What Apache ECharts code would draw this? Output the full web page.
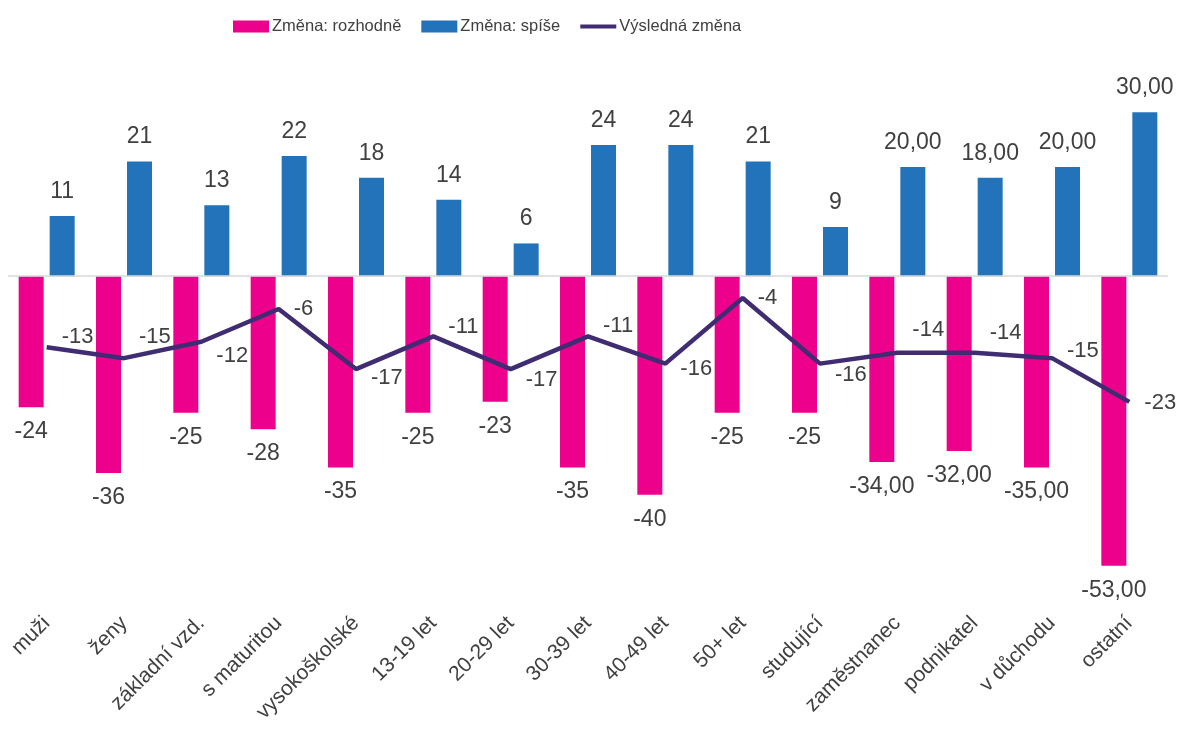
<!DOCTYPE html>
<html>
<head>
<meta charset="utf-8">
<script src="https://cdn.jsdelivr.net/npm/echarts@6/dist/echarts.min.js"></script>
<style>
html,body{margin:0;padding:0;background:#fff;}
#chart{width:1180px;height:733px;}
</style>
</head>
<body>
<div id="chart"></div>
<script>
const categories = ['muži','ženy','základní vzd.','s maturitou','vysokoškolské','13-19 let','20-29 let','30-39 let','40-49 let','50+ let','studující','zaměstnanec','podnikatel','v důchodu','ostatní'];
const rozhodne = [-24,-36,-25,-28,-35,-25,-23,-35,-40,-25,-25,-34,-32,-35,-53];
const spise = [11,21,13,22,18,14,6,24,24,21,9,20,18,20,30];
const vysledna = [-13,-15,-12,-6,-17,-11,-17,-11,-16,-4,-16,-14,-14,-15,-23];
const labelDecimals = [0,0,0,0,0,0,0,0,0,0,0,2,2,2,2];
// label vertical nudges for the line labels (layout only)
const lineLabelDy = [-10,-21,14,0,9,-9,11,-10,5,0,11,-23,-20,-7,1];

const FONT = "'Liberation Sans', Arial, sans-serif";
const TXT = '#404040';

function fmt(v, i) {
  const d = labelDecimals[i];
  return d ? v.toFixed(d).replace('.', ',') : String(v);
}

const chart = echarts.init(document.getElementById('chart'));
chart.setOption({
  animation: false,
  textStyle: { fontFamily: FONT },
  legend: {
    left: 228, top: 13,
    itemWidth: 36, itemHeight: 12, itemGap: 20,
    symbolKeepAspect: true,
    textStyle: { fontSize: 16.5, color: TXT, fontFamily: FONT, padding: [0,0,0,-2] },
    data: [
      { name: 'Změna: rozhodně', icon: 'rect' },
      { name: 'Změna: spíše', icon: 'rect' },
      { name: 'Výsledná změna', icon: 'path://M0,0h36v4h-36z' }
    ]
  },
  grid: { left: 8, right: 12, top: 85, bottom: 129, containLabel: false },
  xAxis: {
    type: 'category',
    data: categories,
    axisLine: { show: false },
    axisTick: { show: false },
    axisLabel: { rotate: 45, fontSize: 21, color: TXT, margin: 16, fontFamily: FONT, interval: 0 }
  },
  yAxis: {
    type: 'value', min: -60, max: 35, interval: 5,
    show: false, splitLine: { show: false }
  },
  series: [
    {
      name: 'Změna: rozhodně', type: 'bar',
      data: rozhodne,
      barWidth: 25, barGap: '24%',
      itemStyle: { color: '#EC008C' },
      label: {
        show: true, position: 'bottom', distance: 13,
        fontSize: 23, color: TXT, fontFamily: FONT,
        formatter: p => fmt(p.value, p.dataIndex)
      }
    },
    {
      name: 'Změna: spíše', type: 'bar',
      data: spise,
      barWidth: 25, barGap: '24%',
      itemStyle: { color: '#2373BA' },
      label: {
        show: true, position: 'top', distance: 13,
        fontSize: 23, color: TXT, fontFamily: FONT,
        formatter: p => fmt(p.value, p.dataIndex)
      },
      markLine: {
        silent: true, symbol: 'none',
        label: { show: false },
        lineStyle: { color: '#D9D9D9', width: 1.5, type: 'solid' },
        data: [{ yAxis: 0 }]
      }
    },
    {
      name: 'Výsledná změna', type: 'line',
      data: vysledna.map((v, i) => ({
        value: v,
        label: { offset: [0, lineLabelDy[i]] }
      })),
      symbol: 'circle', symbolSize: 0, showSymbol: true,
      lineStyle: { color: '#3F2C72', width: 4.5 },
      itemStyle: { color: '#3F2C72' },
      z: 5,
      label: {
        show: true, position: 'right', distance: 15,
        fontSize: 22, color: TXT, fontFamily: FONT
      }
    }
  ]
});
</script>
</body>
</html>
